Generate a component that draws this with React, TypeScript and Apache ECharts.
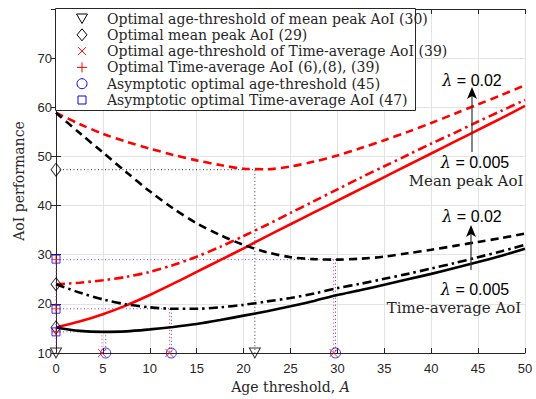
import React, { useEffect, useRef } from "react";
import * as echarts from "echarts";

// Age threshold samples
const A = [0, 2.5, 5, 7.5, 10, 12.5, 15, 17.5, 20, 22.5, 25, 27.5, 30, 32.5, 35, 37.5, 40, 42.5, 45, 47.5, 50];

// Mean peak AoI (red)
const peakL002 = [58.9, 56.6, 54.6, 53.0, 51.6, 50.3, 49.2, 48.25, 47.5, 47.4, 47.95, 48.95, 50.2, 51.7, 53.3, 55.0, 56.8, 58.7, 60.6, 62.5, 64.5];
const peakL001 = [24.0, 24.3, 24.8, 25.5, 26.5, 27.9, 29.6, 31.6, 33.8, 36.1, 38.5, 40.9, 43.3, 45.7, 48.0, 50.3, 52.6, 54.8, 57.1, 59.3, 61.5];
const peakL0005 = [15.2, 16.4, 17.9, 19.7, 21.8, 24.1, 26.5, 28.9, 31.3, 33.8, 36.2, 38.6, 41.0, 43.4, 45.8, 48.2, 50.6, 53.0, 55.4, 57.8, 60.3];

// Time-average AoI (black)
const avgL002 = [58.9, 54.8, 50.8, 46.8, 42.9, 39.4, 36.4, 34.0, 32.0, 30.5, 29.5, 29.1, 29.0, 29.2, 29.6, 30.3, 31.0, 31.8, 32.6, 33.4, 34.3];
const avgL001 = [24.0, 22.3, 20.9, 19.9, 19.3, 19.0, 19.0, 19.3, 19.8, 20.5, 21.2, 22.1, 23.2, 24.1, 25.1, 26.1, 27.2, 28.3, 29.5, 30.7, 32.0];
const avgL0005 = [15.2, 14.5, 14.3, 14.4, 14.8, 15.3, 15.9, 16.7, 17.6, 18.5, 19.5, 20.6, 21.8, 22.8, 23.9, 25.0, 26.1, 27.3, 28.5, 29.8, 31.2];

// Optimal points
const optPeakThresholdX = [0, 21.2];
const optPeakValue = [47.3, 24.0, 15.2];
const optAvgThresholdX = [4.9, 12.1, 29.6];
const optAvgValue = [14.3, 19.0, 29.0];
const asymThresholdX = [5.3, 12.3, 29.8];
const asymAvgValue = [14.3, 18.9, 29.1];
const AXIS_MIN = 10;

const legendTexts = [
  "Optimal age-threshold of mean peak AoI (30)",
  "Optimal mean peak AoI (29)",
  "Optimal age-threshold of Time-average AoI (39)",
  "Optimal Time-average AoI (6),(8), (39)",
  "Asymptotic optimal age-threshold (45)",
  "Asymptotic optimal Time-average AoI (47)",
];

const SERIF = "DejaVu Serif, Liberation Serif, serif";
const SANS = "Liberation Sans, Arial, sans-serif";

function curve(name: string, ys: number[], color: string, type: any) {
  return {
    name,
    type: "line",
    data: A.map((a, i) => [a, ys[i]]),
    showSymbol: false,
    smooth: 0.3,
    lineStyle: { color, width: 2.6, type, cap: "butt" },
    z: 5,
  };
}

function guide(data: number[][], color: string) {
  return {
    type: "line",
    data,
    showSymbol: false,
    silent: true,
    lineStyle: { color, width: 1, type: [1, 2.5] },
    z: 3,
  };
}

const hollow = (c: string) => ({ color: "rgba(0,0,0,0)", borderColor: c, borderWidth: 1 });

export default function App() {
  const ref = useRef<HTMLDivElement>(null);
  useEffect(() => {
    if (!ref.current) return;
    const chart = echarts.init(ref.current, undefined, { renderer: "svg" });

    const dashed = [8, 5];
    const dashDot = [9, 4, 2.5, 4];

    const guides: any[] = [];
    guides.push(guide([[0, optPeakValue[0]], [optPeakThresholdX[1], optPeakValue[0]], [optPeakThresholdX[1], AXIS_MIN]], "#333"));
    for (let i = 0; i < 3; i++) {
      guides.push(guide([[0, optAvgValue[i]], [asymThresholdX[i], optAvgValue[i]]], "#8844cc"));
      guides.push(guide([[optAvgThresholdX[i], optAvgValue[i]], [optAvgThresholdX[i], AXIS_MIN]], "#ff3333"));
      guides.push(guide([[asymThresholdX[i], asymAvgValue[i]], [asymThresholdX[i], AXIS_MIN]], "#3333ff"));
    }
    guides.push(guide([[0, AXIS_MIN], [0, optAvgValue[2]]], "#cc33cc"));

    const crossPath = "path://M0,0L10,10M10,0L0,10";
    const plusPath = "path://M5,0L5,10M0,5L10,5";

    const markers: any[] = [
      { type: "scatter", data: optPeakThresholdX.map((x) => [x, AXIS_MIN]), symbol: "triangle", symbolRotate: 180, symbolSize: [11, 10], itemStyle: hollow("#000"), clip: false, z: 10 },
      { type: "scatter", data: optPeakValue.map((y) => [0, y]), symbol: "diamond", symbolSize: [10, 13], itemStyle: hollow("#000"), clip: false, z: 10 },
      { type: "scatter", data: optAvgThresholdX.map((x) => [x, AXIS_MIN]), symbol: crossPath, symbolSize: 8, itemStyle: hollow("#ff0000"), clip: false, z: 11 },
      { type: "scatter", data: optAvgValue.map((y) => [0, y]), symbol: plusPath, symbolSize: 9, itemStyle: hollow("#ff0000"), clip: false, z: 11 },
      { type: "scatter", data: asymThresholdX.map((x) => [x, AXIS_MIN]), symbol: "circle", symbolSize: 10, itemStyle: hollow("#0000ff"), clip: false, z: 10 },
      { type: "scatter", data: asymAvgValue.map((y) => [0, y]), symbol: "rect", symbolSize: 8, itemStyle: hollow("#0000ff"), clip: false, z: 10 },
    ];

    const lx = 82, ly0 = 18.5, dy = 16.3, tx = 107;
    const legendEls: any[] = [
      { type: "rect", shape: { x: 55.5, y: 8.5, width: 360, height: 102 }, style: { fill: "#fff", stroke: "#262626", lineWidth: 1 }, z: 100 },
    ];
    legendTexts.forEach((t, i) => {
      legendEls.push({ type: "text", x: tx, y: ly0 + i * dy, style: { text: t, font: `14px ${SERIF}`, fill: "#262626", verticalAlign: "middle", align: "left" }, z: 101 });
    });
    const y = (i: number) => ly0 + i * dy;
    legendEls.push({ type: "polygon", shape: { points: [[lx - 5.5, y(0) - 4.5], [lx + 5.5, y(0) - 4.5], [lx, y(0) + 5]] }, style: { fill: "none", stroke: "#000", lineWidth: 1 }, z: 101 });
    legendEls.push({ type: "polygon", shape: { points: [[lx, y(1) - 6], [lx + 5, y(1)], [lx, y(1) + 6], [lx - 5, y(1)]] }, style: { fill: "none", stroke: "#000", lineWidth: 1 }, z: 101 });
    legendEls.push({ type: "line", shape: { x1: lx - 4, y1: y(2) - 4, x2: lx + 4, y2: y(2) + 4 }, style: { stroke: "#ff0000", lineWidth: 1 }, z: 101 });
    legendEls.push({ type: "line", shape: { x1: lx + 4, y1: y(2) - 4, x2: lx - 4, y2: y(2) + 4 }, style: { stroke: "#ff0000", lineWidth: 1 }, z: 101 });
    legendEls.push({ type: "line", shape: { x1: lx, y1: y(3) - 5, x2: lx, y2: y(3) + 5 }, style: { stroke: "#ff0000", lineWidth: 1 }, z: 101 });
    legendEls.push({ type: "line", shape: { x1: lx - 5, y1: y(3), x2: lx + 5, y2: y(3) }, style: { stroke: "#ff0000", lineWidth: 1 }, z: 101 });
    legendEls.push({ type: "circle", shape: { cx: lx, cy: y(4), r: 5 }, style: { fill: "none", stroke: "#0000ff", lineWidth: 1 }, z: 101 });
    legendEls.push({ type: "rect", shape: { x: lx - 4, y: y(5) - 4, width: 8, height: 8 }, style: { fill: "none", stroke: "#0000ff", lineWidth: 1 }, z: 101 });

    const lam = (val: string, cx: number, cy: number) => ({
      type: "text",
      x: cx,
      y: cy,
      style: {
        text: `{l|λ} = ${val}`,
        font: `16px ${SANS}`,
        fill: "#000",
        align: "center",
        verticalAlign: "middle",
        rich: { l: { fontFamily: SERIF, fontStyle: "italic", fontSize: 16 } },
      },
      z: 50,
    });
    const arrow = (x: number, tip: number, tail: number) => [
      { type: "line", shape: { x1: x, y1: tail, x2: x, y2: tip + 8 }, style: { stroke: "#333", lineWidth: 1.2 }, z: 50 },
      { type: "polygon", shape: { points: [[x, tip], [x + 5, tip + 12], [x, tip + 9], [x - 5, tip + 12]] }, style: { fill: "#000" }, z: 50 },
    ];
    const note = (t: string, cx: number, cy: number) => ({
      type: "text", x: cx, y: cy,
      style: { text: t, font: `15px ${SERIF}`, fill: "#262626", align: "center", verticalAlign: "middle" }, z: 50,
    });

    const annot: any[] = [
      lam("0.02", 472, 80),
      ...arrow(472, 87, 152),
      lam("0.005", 475, 162),
      note("Mean peak AoI", 466, 181),
      lam("0.02", 472, 216),
      ...arrow(471, 225, 270),
      lam("0.005", 475, 289),
      note("Time-average AoI", 454, 308),
    ];

    const axisCommon = {
      axisLine: { show: true, lineStyle: { color: "#262626", width: 1 } },
      axisTick: { show: true, inside: true, length: 5, lineStyle: { color: "#262626" } },
    };

    chart.setOption({
      animation: false,
      backgroundColor: "#fff",
      grid: { left: 56, right: 11, top: 9, bottom: 46, show: false },
      xAxis: [
        {
          type: "value", min: 0, max: 50, interval: 5,
          ...axisCommon,
          axisLabel: { color: "#262626", fontFamily: SANS, fontSize: 13, margin: 9 },
          splitLine: { show: true, lineStyle: { color: "#e3e3e3", width: 1 } },
          name: "Age threshold, {i|A}",
          nameLocation: "middle",
          nameGap: 26,
          nameTextStyle: { color: "#262626", fontFamily: SERIF, fontSize: 14, rich: { i: { fontStyle: "italic", fontFamily: SERIF, fontSize: 14 } } },
        },
        {
          type: "value", min: 0, max: 50, interval: 5, position: "top",
          ...axisCommon,
          axisLabel: { show: false },
          splitLine: { show: false },
        },
      ],
      yAxis: [
        {
          type: "value", min: 10, max: 80, interval: 10,
          ...axisCommon,
          axisLabel: { color: "#262626", fontFamily: SANS, fontSize: 13, margin: 4, formatter: (v: number) => (v === 80 ? "" : String(v)) },
          splitLine: { show: true, lineStyle: { color: "#e3e3e3", width: 1 } },
          name: "AoI performance",
          nameLocation: "middle",
          nameGap: 30,
          nameTextStyle: { color: "#262626", fontFamily: SERIF, fontSize: 14 },
        },
        {
          type: "value", min: 10, max: 80, interval: 10, position: "right",
          ...axisCommon,
          axisLabel: { show: false },
          splitLine: { show: false },
        },
      ],
      series: [
        ...guides,
        curve("peak 0.02", peakL002, "#ff0000", dashed),
        curve("peak 0.01", peakL001, "#ff0000", dashDot),
        curve("peak 0.005", peakL0005, "#ff0000", "solid"),
        curve("avg 0.02", avgL002, "#000000", dashed),
        curve("avg 0.01", avgL001, "#000000", dashDot),
        curve("avg 0.005", avgL0005, "#000000", "solid"),
        ...markers,
      ],
      graphic: { elements: [...legendEls, ...annot] },
    });
    return () => chart.dispose();
  }, []);
  return <div ref={ref} style={{ position: "fixed", left: 0, top: 0, width: 536, height: 399 }} />;
}
